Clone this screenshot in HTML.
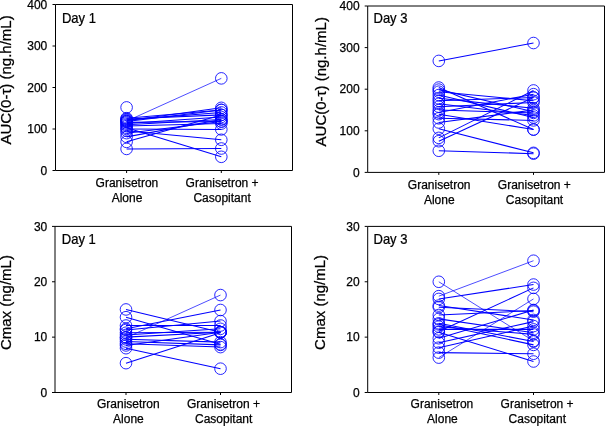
<!DOCTYPE html><html><head><meta charset="utf-8"><style>html,body{margin:0;padding:0;background:#fff;}svg{display:block;will-change:transform;}</style></head><body>
<svg width="605" height="426" viewBox="0 0 605 426" font-family='"Liberation Sans", sans-serif'>
<rect width="605" height="426" fill="#fff"/>
<style>text{fill:#000;stroke:#000;stroke-width:0.25px;}</style>
<g stroke="#0000ff" fill="none"><line x1="126.60" y1="121.12" x2="221.30" y2="78.37" stroke-width="0.7"/><line x1="126.60" y1="127.75" x2="221.30" y2="156.81" stroke-width="1.05"/><line x1="126.60" y1="130.66" x2="221.30" y2="139.79" stroke-width="1.05"/><line x1="126.60" y1="141.87" x2="221.30" y2="114.89" stroke-width="1.05"/><line x1="126.60" y1="136.88" x2="221.30" y2="119.45" stroke-width="1.05"/><line x1="126.60" y1="148.92" x2="221.30" y2="148.50" stroke-width="1.05"/><line x1="126.60" y1="129.00" x2="221.30" y2="129.41" stroke-width="1.05"/><line x1="126.60" y1="120.70" x2="221.30" y2="107.84" stroke-width="1.05"/><line x1="126.60" y1="121.53" x2="221.30" y2="109.91" stroke-width="1.05"/><line x1="126.60" y1="119.87" x2="221.30" y2="112.40" stroke-width="1.05"/><line x1="126.60" y1="119.04" x2="221.30" y2="114.89" stroke-width="1.05"/><line x1="126.60" y1="123.60" x2="221.30" y2="116.97" stroke-width="1.05"/><line x1="126.60" y1="124.85" x2="221.30" y2="119.45" stroke-width="1.05"/><line x1="126.60" y1="126.09" x2="221.30" y2="123.60" stroke-width="1.05"/><line x1="126.60" y1="133.15" x2="221.30" y2="121.53" stroke-width="1.05"/><line x1="126.60" y1="122.36" x2="221.30" y2="121.53" stroke-width="1.05"/><line x1="126.60" y1="118.21" x2="221.30" y2="109.91" stroke-width="1.05"/></g>
<g stroke="#0000ff" fill="none" stroke-width="0.85"><circle cx="126.60" cy="107.42" r="5.8"/><circle cx="126.60" cy="121.12" r="5.8"/><circle cx="221.30" cy="78.37" r="5.8"/><circle cx="126.60" cy="127.75" r="5.8"/><circle cx="221.30" cy="156.81" r="5.8"/><circle cx="126.60" cy="130.66" r="5.8"/><circle cx="221.30" cy="139.79" r="5.8"/><circle cx="126.60" cy="141.87" r="5.8"/><circle cx="221.30" cy="114.89" r="5.8"/><circle cx="126.60" cy="136.88" r="5.8"/><circle cx="221.30" cy="119.45" r="5.8"/><circle cx="126.60" cy="148.92" r="5.8"/><circle cx="221.30" cy="148.50" r="5.8"/><circle cx="126.60" cy="129.00" r="5.8"/><circle cx="221.30" cy="129.41" r="5.8"/><circle cx="126.60" cy="120.70" r="5.8"/><circle cx="221.30" cy="107.84" r="5.8"/><circle cx="126.60" cy="121.53" r="5.8"/><circle cx="221.30" cy="109.91" r="5.8"/><circle cx="126.60" cy="119.87" r="5.8"/><circle cx="221.30" cy="112.40" r="5.8"/><circle cx="126.60" cy="119.04" r="5.8"/><circle cx="221.30" cy="114.89" r="5.8"/><circle cx="126.60" cy="123.60" r="5.8"/><circle cx="221.30" cy="116.97" r="5.8"/><circle cx="126.60" cy="124.85" r="5.8"/><circle cx="221.30" cy="119.45" r="5.8"/><circle cx="126.60" cy="126.09" r="5.8"/><circle cx="221.30" cy="123.60" r="5.8"/><circle cx="126.60" cy="133.15" r="5.8"/><circle cx="221.30" cy="121.53" r="5.8"/><circle cx="126.60" cy="122.36" r="5.8"/><circle cx="221.30" cy="121.53" r="5.8"/><circle cx="126.60" cy="118.21" r="5.8"/><circle cx="221.30" cy="109.91" r="5.8"/></g>
<path d="M55.5 4.5H292.5V170.5H55.5Z" fill="none" stroke="#000" stroke-width="1"/>
<path d="M52.5 170.50H55.5M52.5 129.00H55.5M52.5 87.50H55.5M52.5 46.00H55.5M52.5 4.50H55.5M126.60 170.5V173.0M221.30 170.5V173.0" stroke="#000" stroke-width="1"/>
<text x="47.3" y="174.70" font-size="12" text-anchor="end">0</text>
<text x="47.3" y="133.20" font-size="12" text-anchor="end">100</text>
<text x="47.3" y="91.70" font-size="12" text-anchor="end">200</text>
<text x="47.3" y="50.20" font-size="12" text-anchor="end">300</text>
<text x="47.3" y="8.70" font-size="12" text-anchor="end">400</text>
<text transform="translate(11.0,144.6) rotate(-90)" font-size="15">AUC(0-τ) (ng.h/mL)</text>
<text transform="translate(61.9,22.7) scale(0.93,1)" font-size="14">Day 1</text>
<text x="95.6" y="186.7" font-size="12">Granisetron</text>
<text x="111.7" y="201.6" font-size="12">Alone</text>
<text x="185.6" y="186.7" font-size="12">Granisetron +</text>
<text x="193.4" y="201.6" font-size="12">Casopitant</text>
<g stroke="#0000ff" fill="none"><line x1="438.80" y1="60.91" x2="533.50" y2="43.02" stroke-width="1.05"/><line x1="438.80" y1="87.54" x2="533.50" y2="129.55" stroke-width="1.05"/><line x1="438.80" y1="89.62" x2="533.50" y2="111.66" stroke-width="1.05"/><line x1="438.80" y1="91.70" x2="533.50" y2="100.85" stroke-width="1.05"/><line x1="438.80" y1="95.02" x2="533.50" y2="117.49" stroke-width="1.05"/><line x1="438.80" y1="98.35" x2="533.50" y2="108.34" stroke-width="1.05"/><line x1="438.80" y1="100.85" x2="533.50" y2="97.52" stroke-width="1.05"/><line x1="438.80" y1="103.76" x2="533.50" y2="115.41" stroke-width="1.05"/><line x1="438.80" y1="106.67" x2="533.50" y2="102.51" stroke-width="1.05"/><line x1="438.80" y1="110.00" x2="533.50" y2="112.91" stroke-width="1.05"/><line x1="438.80" y1="112.50" x2="533.50" y2="94.19" stroke-width="1.05"/><line x1="438.80" y1="114.16" x2="533.50" y2="129.55" stroke-width="1.05"/><line x1="438.80" y1="118.32" x2="533.50" y2="120.40" stroke-width="1.05"/><line x1="438.80" y1="122.48" x2="533.50" y2="110.00" stroke-width="1.05"/><line x1="438.80" y1="128.72" x2="533.50" y2="152.85" stroke-width="1.05"/><line x1="438.80" y1="137.87" x2="533.50" y2="90.45" stroke-width="1.05"/><line x1="438.80" y1="141.20" x2="533.50" y2="97.52" stroke-width="1.05"/><line x1="438.80" y1="150.77" x2="533.50" y2="153.68" stroke-width="1.05"/></g>
<g stroke="#0000ff" fill="none" stroke-width="0.85"><circle cx="438.80" cy="60.91" r="5.8"/><circle cx="533.50" cy="43.02" r="5.8"/><circle cx="438.80" cy="87.54" r="5.8"/><circle cx="533.50" cy="129.55" r="5.8"/><circle cx="438.80" cy="89.62" r="5.8"/><circle cx="533.50" cy="111.66" r="5.8"/><circle cx="438.80" cy="91.70" r="5.8"/><circle cx="533.50" cy="100.85" r="5.8"/><circle cx="438.80" cy="95.02" r="5.8"/><circle cx="533.50" cy="117.49" r="5.8"/><circle cx="438.80" cy="98.35" r="5.8"/><circle cx="533.50" cy="108.34" r="5.8"/><circle cx="438.80" cy="100.85" r="5.8"/><circle cx="533.50" cy="97.52" r="5.8"/><circle cx="438.80" cy="103.76" r="5.8"/><circle cx="533.50" cy="115.41" r="5.8"/><circle cx="438.80" cy="106.67" r="5.8"/><circle cx="533.50" cy="102.51" r="5.8"/><circle cx="438.80" cy="110.00" r="5.8"/><circle cx="533.50" cy="112.91" r="5.8"/><circle cx="438.80" cy="112.50" r="5.8"/><circle cx="533.50" cy="94.19" r="5.8"/><circle cx="438.80" cy="114.16" r="5.8"/><circle cx="533.50" cy="129.55" r="5.8"/><circle cx="438.80" cy="118.32" r="5.8"/><circle cx="533.50" cy="120.40" r="5.8"/><circle cx="438.80" cy="122.48" r="5.8"/><circle cx="533.50" cy="110.00" r="5.8"/><circle cx="438.80" cy="128.72" r="5.8"/><circle cx="533.50" cy="152.85" r="5.8"/><circle cx="438.80" cy="137.87" r="5.8"/><circle cx="533.50" cy="90.45" r="5.8"/><circle cx="438.80" cy="141.20" r="5.8"/><circle cx="533.50" cy="97.52" r="5.8"/><circle cx="438.80" cy="150.77" r="5.8"/><circle cx="533.50" cy="153.68" r="5.8"/></g>
<path d="M367.7 6.0H604.5V172.4H367.7Z" fill="none" stroke="#000" stroke-width="1"/>
<path d="M364.7 172.40H367.7M364.7 130.80H367.7M364.7 89.20H367.7M364.7 47.60H367.7M364.7 6.00H367.7M438.80 172.4V174.9M533.50 172.4V174.9" stroke="#000" stroke-width="1"/>
<text x="359.6" y="176.60" font-size="12" text-anchor="end">0</text>
<text x="359.6" y="135.00" font-size="12" text-anchor="end">100</text>
<text x="359.6" y="93.40" font-size="12" text-anchor="end">200</text>
<text x="359.6" y="51.80" font-size="12" text-anchor="end">300</text>
<text x="359.6" y="10.20" font-size="12" text-anchor="end">400</text>
<text transform="translate(325.6,146.4) rotate(-90)" font-size="15">AUC(0-τ) (ng.h/mL)</text>
<text transform="translate(373.5,22.8) scale(0.93,1)" font-size="14">Day 3</text>
<text x="407.8" y="188.5" font-size="12">Granisetron</text>
<text x="423.9" y="203.5" font-size="12">Alone</text>
<text x="497.8" y="188.5" font-size="12">Granisetron +</text>
<text x="505.8" y="203.5" font-size="12">Casopitant</text>
<g stroke="#0000ff" fill="none"><line x1="126.00" y1="309.45" x2="220.50" y2="332.15" stroke-width="1.05"/><line x1="126.00" y1="317.20" x2="220.50" y2="344.33" stroke-width="1.05"/><line x1="126.00" y1="337.69" x2="220.50" y2="295.05" stroke-width="0.7"/><line x1="126.00" y1="328.83" x2="220.50" y2="310.00" stroke-width="1.05"/><line x1="126.00" y1="329.94" x2="220.50" y2="321.08" stroke-width="1.05"/><line x1="126.00" y1="325.51" x2="220.50" y2="325.51" stroke-width="1.05"/><line x1="126.00" y1="332.70" x2="220.50" y2="332.15" stroke-width="1.05"/><line x1="126.00" y1="334.92" x2="220.50" y2="328.83" stroke-width="1.05"/><line x1="126.00" y1="337.13" x2="220.50" y2="332.15" stroke-width="1.05"/><line x1="126.00" y1="339.35" x2="220.50" y2="342.12" stroke-width="1.05"/><line x1="126.00" y1="343.78" x2="220.50" y2="347.10" stroke-width="1.05"/><line x1="126.00" y1="345.44" x2="220.50" y2="332.15" stroke-width="1.05"/><line x1="126.00" y1="348.21" x2="220.50" y2="368.69" stroke-width="1.05"/><line x1="126.00" y1="363.16" x2="220.50" y2="332.70" stroke-width="1.05"/><line x1="126.00" y1="341.56" x2="220.50" y2="344.88" stroke-width="1.05"/></g>
<g stroke="#0000ff" fill="none" stroke-width="0.85"><circle cx="126.00" cy="309.45" r="5.8"/><circle cx="220.50" cy="332.15" r="5.8"/><circle cx="126.00" cy="317.20" r="5.8"/><circle cx="220.50" cy="344.33" r="5.8"/><circle cx="126.00" cy="337.69" r="5.8"/><circle cx="220.50" cy="295.05" r="5.8"/><circle cx="126.00" cy="328.83" r="5.8"/><circle cx="220.50" cy="310.00" r="5.8"/><circle cx="126.00" cy="329.94" r="5.8"/><circle cx="220.50" cy="321.08" r="5.8"/><circle cx="126.00" cy="325.51" r="5.8"/><circle cx="220.50" cy="325.51" r="5.8"/><circle cx="126.00" cy="332.70" r="5.8"/><circle cx="220.50" cy="332.15" r="5.8"/><circle cx="126.00" cy="334.92" r="5.8"/><circle cx="220.50" cy="328.83" r="5.8"/><circle cx="126.00" cy="337.13" r="5.8"/><circle cx="220.50" cy="332.15" r="5.8"/><circle cx="126.00" cy="339.35" r="5.8"/><circle cx="220.50" cy="342.12" r="5.8"/><circle cx="126.00" cy="343.78" r="5.8"/><circle cx="220.50" cy="347.10" r="5.8"/><circle cx="126.00" cy="345.44" r="5.8"/><circle cx="220.50" cy="332.15" r="5.8"/><circle cx="126.00" cy="348.21" r="5.8"/><circle cx="220.50" cy="368.69" r="5.8"/><circle cx="126.00" cy="363.16" r="5.8"/><circle cx="220.50" cy="332.70" r="5.8"/><circle cx="126.00" cy="341.56" r="5.8"/><circle cx="220.50" cy="344.88" r="5.8"/></g>
<path d="M55.0 226.4H291.5V392.5H55.0Z" fill="none" stroke="#000" stroke-width="1"/>
<path d="M52.0 392.50H55.0M52.0 337.13H55.0M52.0 281.77H55.0M52.0 226.40H55.0M126.00 392.5V395.0M220.50 392.5V395.0" stroke="#000" stroke-width="1"/>
<text x="47.3" y="396.70" font-size="12" text-anchor="end">0</text>
<text x="47.3" y="341.33" font-size="12" text-anchor="end">10</text>
<text x="47.3" y="285.97" font-size="12" text-anchor="end">20</text>
<text x="47.3" y="230.60" font-size="12" text-anchor="end">30</text>
<text transform="translate(11.1,350.1) rotate(-90)" font-size="15">Cmax (ng/mL)</text>
<text transform="translate(61.8,243.8) scale(0.93,1)" font-size="14">Day 1</text>
<text x="97.0" y="408.4" font-size="12">Granisetron</text>
<text x="113.1" y="423.3" font-size="12">Alone</text>
<text x="187.0" y="408.4" font-size="12">Granisetron +</text>
<text x="195.0" y="423.3" font-size="12">Casopitant</text>
<g stroke="#0000ff" fill="none"><line x1="438.80" y1="281.77" x2="533.50" y2="341.01" stroke-width="0.7"/><line x1="438.80" y1="296.16" x2="533.50" y2="260.73" stroke-width="0.7"/><line x1="438.80" y1="298.93" x2="533.50" y2="284.54" stroke-width="1.05"/><line x1="438.80" y1="331.60" x2="533.50" y2="287.86" stroke-width="1.05"/><line x1="438.80" y1="307.24" x2="533.50" y2="311.66" stroke-width="1.05"/><line x1="438.80" y1="314.99" x2="533.50" y2="310.56" stroke-width="1.05"/><line x1="438.80" y1="323.29" x2="533.50" y2="341.56" stroke-width="1.05"/><line x1="438.80" y1="324.40" x2="533.50" y2="344.88" stroke-width="1.05"/><line x1="438.80" y1="326.61" x2="533.50" y2="334.37" stroke-width="1.05"/><line x1="438.80" y1="329.38" x2="533.50" y2="329.38" stroke-width="1.05"/><line x1="438.80" y1="332.15" x2="533.50" y2="361.49" stroke-width="1.05"/><line x1="438.80" y1="338.24" x2="533.50" y2="310.00" stroke-width="1.05"/><line x1="438.80" y1="342.67" x2="533.50" y2="321.63" stroke-width="1.05"/><line x1="438.80" y1="347.65" x2="533.50" y2="326.06" stroke-width="1.05"/><line x1="438.80" y1="352.64" x2="533.50" y2="353.74" stroke-width="1.05"/><line x1="438.80" y1="357.62" x2="533.50" y2="298.93" stroke-width="0.7"/><line x1="438.80" y1="318.86" x2="533.50" y2="332.70" stroke-width="1.05"/><line x1="438.80" y1="305.57" x2="533.50" y2="319.97" stroke-width="1.05"/></g>
<g stroke="#0000ff" fill="none" stroke-width="0.85"><circle cx="438.80" cy="281.77" r="5.8"/><circle cx="533.50" cy="341.01" r="5.8"/><circle cx="438.80" cy="296.16" r="5.8"/><circle cx="533.50" cy="260.73" r="5.8"/><circle cx="438.80" cy="298.93" r="5.8"/><circle cx="533.50" cy="284.54" r="5.8"/><circle cx="438.80" cy="331.60" r="5.8"/><circle cx="533.50" cy="287.86" r="5.8"/><circle cx="438.80" cy="307.24" r="5.8"/><circle cx="533.50" cy="311.66" r="5.8"/><circle cx="438.80" cy="314.99" r="5.8"/><circle cx="533.50" cy="310.56" r="5.8"/><circle cx="438.80" cy="323.29" r="5.8"/><circle cx="533.50" cy="341.56" r="5.8"/><circle cx="438.80" cy="324.40" r="5.8"/><circle cx="533.50" cy="344.88" r="5.8"/><circle cx="438.80" cy="326.61" r="5.8"/><circle cx="533.50" cy="334.37" r="5.8"/><circle cx="438.80" cy="329.38" r="5.8"/><circle cx="533.50" cy="329.38" r="5.8"/><circle cx="438.80" cy="332.15" r="5.8"/><circle cx="533.50" cy="361.49" r="5.8"/><circle cx="438.80" cy="338.24" r="5.8"/><circle cx="533.50" cy="310.00" r="5.8"/><circle cx="438.80" cy="342.67" r="5.8"/><circle cx="533.50" cy="321.63" r="5.8"/><circle cx="438.80" cy="347.65" r="5.8"/><circle cx="533.50" cy="326.06" r="5.8"/><circle cx="438.80" cy="352.64" r="5.8"/><circle cx="533.50" cy="353.74" r="5.8"/><circle cx="438.80" cy="357.62" r="5.8"/><circle cx="533.50" cy="298.93" r="5.8"/><circle cx="438.80" cy="318.86" r="5.8"/><circle cx="533.50" cy="332.70" r="5.8"/><circle cx="438.80" cy="305.57" r="5.8"/><circle cx="533.50" cy="319.97" r="5.8"/></g>
<path d="M367.7 226.4H604.5V392.5H367.7Z" fill="none" stroke="#000" stroke-width="1"/>
<path d="M364.7 392.50H367.7M364.7 337.13H367.7M364.7 281.77H367.7M364.7 226.40H367.7M438.80 392.5V395.0M533.50 392.5V395.0" stroke="#000" stroke-width="1"/>
<text x="359.6" y="396.70" font-size="12" text-anchor="end">0</text>
<text x="359.6" y="341.33" font-size="12" text-anchor="end">10</text>
<text x="359.6" y="285.97" font-size="12" text-anchor="end">20</text>
<text x="359.6" y="230.60" font-size="12" text-anchor="end">30</text>
<text transform="translate(325.3,349.9) rotate(-90)" font-size="15">Cmax (ng/mL)</text>
<text transform="translate(373.5,243.8) scale(0.93,1)" font-size="14">Day 3</text>
<text x="410.6" y="408.4" font-size="12">Granisetron</text>
<text x="427.1" y="423.3" font-size="12">Alone</text>
<text x="500.6" y="408.4" font-size="12">Granisetron +</text>
<text x="508.6" y="423.3" font-size="12">Casopitant</text>
</svg></body></html>
